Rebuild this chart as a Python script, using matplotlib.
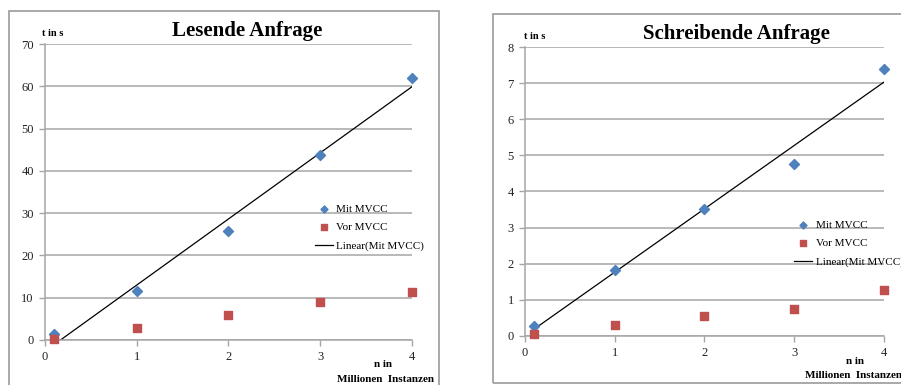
import numpy as np
import matplotlib.pyplot as plt
from matplotlib.patches import Rectangle

plt.rcParams['font.family'] = ['Liberation Serif', 'DejaVu Serif']

x_n = [0.1, 1, 2, 3, 4]

# Lesende Anfrage
read_mit = [1.5, 11.7, 25.8, 43.7, 62.0]
read_vor = [0.3, 2.9, 5.8, 8.9, 11.4]

# Schreibende Anfrage
write_mit = [0.28, 1.82, 3.52, 4.76, 7.4]
write_vor = [0.05, 0.3, 0.55, 0.76, 1.28]

x_ticks = [0, 1, 2, 3, 4]
legend_labels = ['Mit MVCC', 'Vor MVCC', 'Linear(Mit MVCC)']

blue = '#4F81BD'
red = '#C0504D'
grid_col = '#A6A6A6'


def panel(fig, rect, title, mit, vor, ymax, ystep, leg_pos, title_x, tins_x):
    ax = fig.add_axes(rect)
    ax.scatter(x_n, mit, marker='D', s=26, color=blue, zorder=3, clip_on=False,
               label=legend_labels[0])
    ax.scatter(x_n, vor, marker='s', s=40, color=red, zorder=3, clip_on=False,
               label=legend_labels[1])
    k, d = np.polyfit(x_n, mit, 1)
    xs = np.array([x_n[0], x_n[-1]])
    ax.plot(xs, k * xs + d, color='black', lw=0.9, zorder=2, label=legend_labels[2])

    ax.set_xlim(0, 4)
    ax.set_ylim(0, ymax)
    ax.set_xticks(x_ticks)
    ax.set_yticks(np.arange(0, ymax + ystep / 2, ystep))
    ax.yaxis.grid(True, color=grid_col, lw=1.1)
    ax.set_axisbelow(True)
    for s in ['top', 'right']:
        ax.spines[s].set_visible(False)
    for s in ['left', 'bottom']:
        ax.spines[s].set_color(grid_col)
        ax.spines[s].set_linewidth(1.1)
    ax.tick_params(length=4, width=1, color=grid_col, labelsize=9, labelcolor='#222222', pad=4)

    ax.text(tins_x, 1.02, 't in s', transform=ax.transAxes, ha='center', va='bottom',
            fontsize=7.5, fontweight='bold')
    ax.set_title(title, fontsize=15, fontweight='bold', x=title_x, y=1.0, pad=6)

    ax.legend(loc='center left', bbox_to_anchor=leg_pos, frameon=False,
              fontsize=8, handlelength=1.6, handletextpad=0.3, markerscale=0.7,
              labelspacing=0.75, borderpad=0)
    return ax


fig = plt.figure(figsize=(9.01, 3.85), dpi=100)

# chart frames
fig.patches.append(Rectangle((9 / 901, -0.05), 430 / 901, 1.05 - 11 / 385, transform=fig.transFigure,
                             fill=False, edgecolor='#999999', lw=1.2))
fig.patches.append(Rectangle((493 / 901, 1 - 383 / 385), 0.5, (383 - 14) / 385, transform=fig.transFigure,
                             fill=False, edgecolor='#999999', lw=1.2))

ax1 = panel(fig, [0.0499, 0.1169, 0.4074, 0.7688], 'Lesende Anfrage', read_mit, read_vor,
            70, 10, (0.72, 0.38), 0.55, 0.022)
ax1.text(0.92, -0.084, 'n in', transform=ax1.transAxes, ha='center', va='center',
         fontsize=8, fontweight='bold')
ax1.text(1.06, -0.132, 'Millionen  Instanzen', transform=ax1.transAxes, ha='right', va='center',
         fontsize=8, fontweight='bold')

ax2 = panel(fig, [0.5827, 0.1273, 0.3984, 0.7506], 'Schreibende Anfrage', write_mit, write_vor,
            8, 1, (0.735, 0.32), 0.59, 0.028)
ax2.text(0.92, -0.087, 'n in', transform=ax2.transAxes, ha='center', va='center',
         fontsize=8, fontweight='bold')
ax2.text(0.78, -0.135, 'Millionen  Instanzen', transform=ax2.transAxes, ha='left', va='center',
         fontsize=8, fontweight='bold')

fig.savefig('out.png', dpi=100)
